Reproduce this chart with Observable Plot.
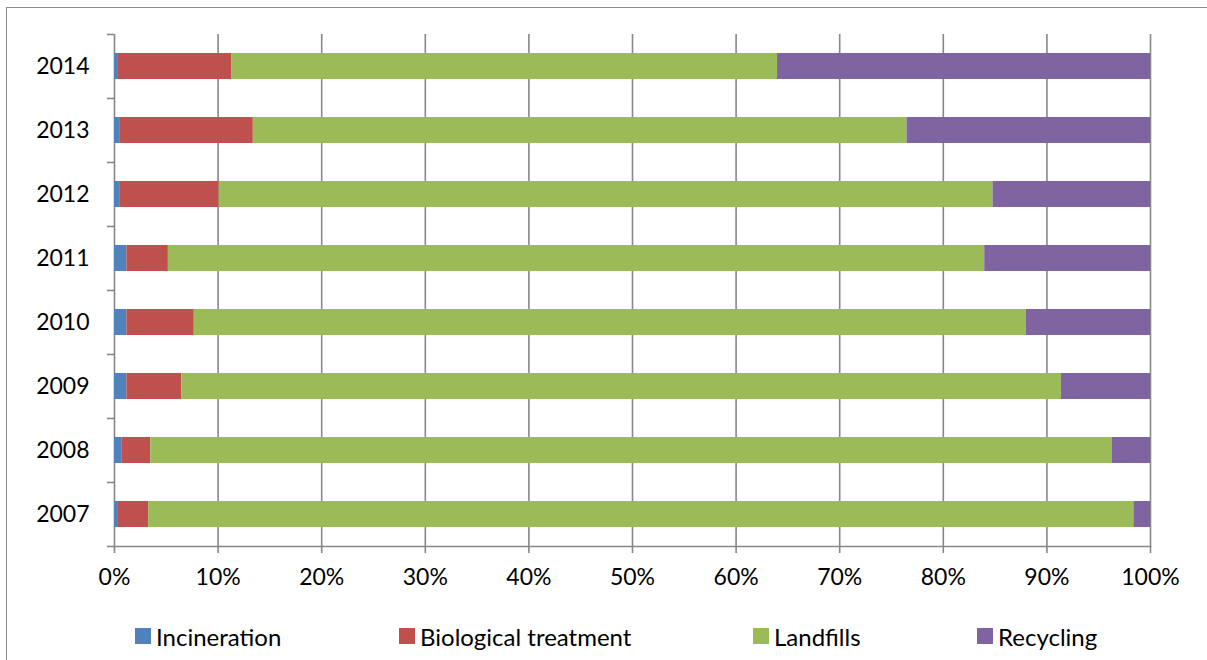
<!DOCTYPE html>
<html>
<head>
<meta charset="utf-8">
<script src="https://cdn.jsdelivr.net/npm/d3@7"></script>
<script src="https://cdn.jsdelivr.net/npm/@observablehq/plot@0.6"></script>
<style>
  html, body { margin: 0; padding: 0; background: #fff; overflow: hidden; }
  #wrap { position: relative; width: 1207px; height: 660px; overflow: hidden; font-family: Lato, "Open Sans", sans-serif; }
  #border { position: absolute; left: 6px; top: 7px; width: 1240px; height: 700px; border: 1.5px solid #8c8c8c; box-sizing: border-box; pointer-events: none; }
  #legend { position: relative; height: 50px; }
  .item { position: absolute; top: 0; height: 52px; display: flex; align-items: center; font-size: 24px; color: #000; }
  .sw { width: 16px; height: 16px; margin-right: 5px; }
</style>
</head>
<body>
<div id="wrap">
  <div id="chart"></div>
  <div id="legend"></div>
  <div id="border"></div>
</div>
<script>
const years = ["2007", "2008", "2009", "2010", "2011", "2012", "2013", "2014"];
const series = ["Incineration", "Biological treatment", "Landfills", "Recycling"];
const colors = ["#4F81BD", "#C0504D", "#9BBB59", "#8064A2"];
const incineration = [0.3, 0.7, 1.2, 1.2, 1.2, 0.5, 0.5, 0.3];
const biological   = [3.0, 2.8, 5.3, 6.5, 4.0, 9.6, 12.9, 11.0];
const landfills    = [95.1, 92.8, 84.9, 80.3, 78.8, 74.7, 63.1, 52.7];
const recycling    = [1.6, 3.7, 8.6, 12.0, 16.0, 15.2, 23.5, 36.0];
const xTicks = [0, 0.1, 0.2, 0.3, 0.4, 0.5, 0.6, 0.7, 0.8, 0.9, 1];

const seriesValues = [incineration, biological, landfills, recycling];
const table = series.flatMap((s, si) => years.map((y, yi) => ({series: s, year: y, value: seriesValues[si][yi]})));
const yDomain = years.slice().reverse();
const gray = "#878787";

const chart = Plot.plot({
  width: 1207,
  height: 610,
  marginLeft: 114,
  marginRight: 57,
  marginTop: 34,
  marginBottom: 64,
  style: {fontFamily: "Lato, 'Open Sans', sans-serif", fontSize: "23px", color: "#000", background: "#fff"},
  x: {domain: [0, 1], ticks: xTicks, tickFormat: d3.format(".0%"), label: null},
  y: {domain: yDomain, paddingInner: 0.59, paddingOuter: 0.295, label: null},
  color: {domain: series, range: colors},
  marks: [
    Plot.gridX(xTicks, {stroke: gray, strokeOpacity: 1, strokeWidth: 1.6}),
    Plot.barX(table, Plot.stackX({x: "value", y: "year", fill: "series", order: series, offset: "normalize"})),
    Plot.frame({anchor: "bottom", stroke: gray, strokeWidth: 1.6}),
    Plot.axisX(xTicks, {tickSize: 7, tickPadding: 15, stroke: gray, strokeWidth: 1.6, fill: "#000", tickFormat: d3.format(".0%"), label: null}),
    Plot.axisY({tickSize: 0, tickPadding: 25, fill: "#000", label: null}),
    Plot.axisY(years, {tickSize: 7, tickFormat: () => "", stroke: gray, strokeWidth: 1.6, dy: 32, label: null}),
    Plot.axisY([yDomain[0]], {tickSize: 7, tickFormat: () => "", stroke: gray, strokeWidth: 1.6, dy: -32, label: null})
  ]
});
document.getElementById("chart").appendChild(chart);

const lefts = [135, 399, 753, 977];
const legend = document.getElementById("legend");
series.forEach((s, i) => {
  const it = document.createElement("div");
  it.className = "item";
  it.style.left = lefts[i] + "px";
  const sw = document.createElement("span");
  sw.className = "sw";
  sw.style.background = colors[i];
  it.appendChild(sw);
  const t = document.createElement("span");
  t.textContent = s;
  it.appendChild(t);
  legend.appendChild(it);
});
</script>
</body>
</html>
